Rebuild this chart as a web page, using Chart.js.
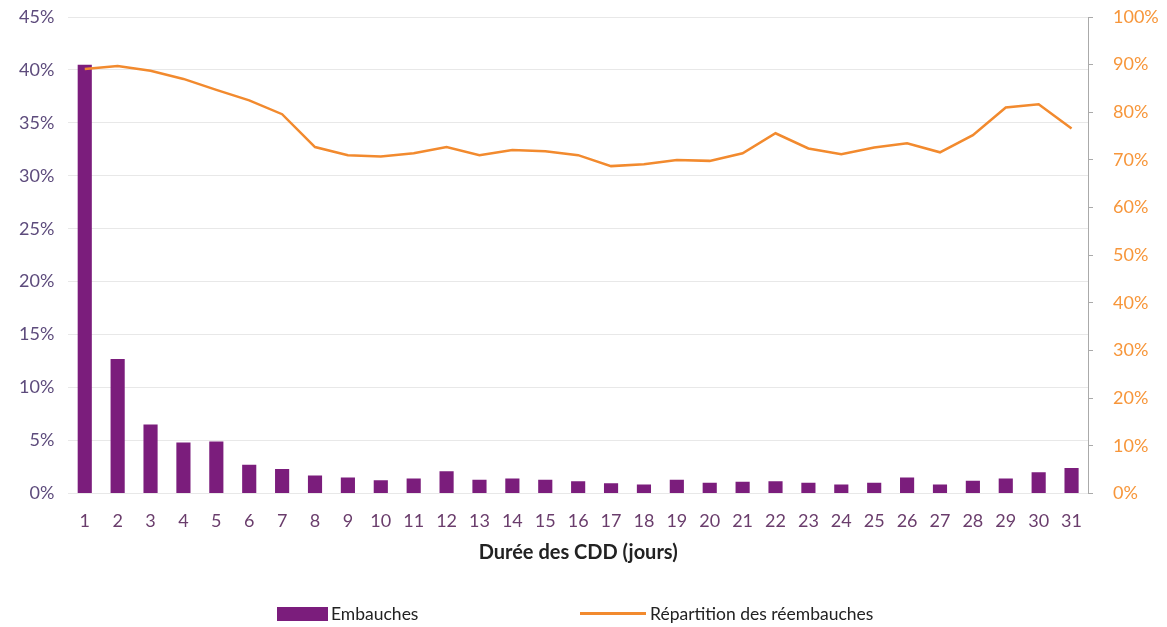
<!DOCTYPE html>
<html>
<head>
<meta charset="utf-8">
<script src="https://cdn.jsdelivr.net/npm/chart.js@4.4.1/dist/chart.umd.min.js"></script>
<style>
  body { margin: 0; background: #fff; font-family: Lato, "Open Sans", sans-serif; }
  #wrap { position: relative; width: 1167px; height: 627px; }
  .legend { position: absolute; top: 603px; font-size: 17.5px; color: #222; display: flex; align-items: center; }
  .legend span.box { display: inline-block; width: 51px; height: 14px; background: #7b1d7c; margin-right: 3px; }
  .legend span.line { display: inline-block; width: 66px; height: 3px; background: #f28a2e; margin-right: 4px; }
</style>
</head>
<body>
<div id="wrap">
  <canvas id="chart" width="1167" height="627"></canvas>
  <div class="legend" style="left:277px"><span class="box"></span>Embauches</div>
  <div class="legend" style="left:580px"><span class="line"></span>Répartition des réembauches</div>
</div>
<script>
const jours = ["1","2","3","4","5","6","7","8","9","10","11","12","13","14","15","16","17","18","19","20","21","22","23","24","25","26","27","28","29","30","31"];
// part des embauches (%), axe gauche
const embauches = [40.5, 12.7, 6.5, 4.8, 4.9, 2.7, 2.3, 1.7, 1.5, 1.25, 1.4, 2.1, 1.3, 1.4, 1.3, 1.15, 0.95, 0.85, 1.3, 1.0, 1.1, 1.15, 1.0, 0.85, 1.0, 1.5, 0.85, 1.2, 1.4, 2.0, 2.4];
// répartition des réembauches (%), axe droit
const reembauches = [89.1, 89.7, 88.7, 87.0, 84.7, 82.5, 79.6, 72.7, 71.0, 70.7, 71.4, 72.7, 71.0, 72.1, 71.8, 71.0, 68.7, 69.1, 70.0, 69.8, 71.4, 75.6, 72.4, 71.2, 72.6, 73.5, 71.6, 75.2, 81.0, 81.7, 76.6];

new Chart(document.getElementById("chart"), {
  data: {
    labels: jours,
    datasets: [
      {
        type: "line",
        label: "Répartition des réembauches",
        data: reembauches,
        yAxisID: "y2",
        borderColor: "#f28a2e",
        backgroundColor: "#f28a2e",
        borderWidth: 2.5,
        pointRadius: 0,
        tension: 0,
        order: 0
      },
      {
        type: "bar",
        label: "Embauches",
        data: embauches,
        yAxisID: "y",
        backgroundColor: "#7b1d7c",
        barPercentage: 0.43,
        categoryPercentage: 1,
        order: 1
      }
    ]
  },
  options: {
    responsive: false,
    animation: false,
    layout: { padding: { left: 5, right: 0, top: 17, bottom: 58 } },
    plugins: { legend: { display: false }, tooltip: { enabled: false } },
    scales: {
      x: {
        grid: { display: false },
        border: { display: false },
        ticks: { color: "#6a3d6c", font: { family: "Lato", size: 18 }, padding: 9, maxRotation: 0, autoSkip: false },
        title: { display: true, text: "Durée des CDD (jours)", color: "#222", font: { family: "Lato", size: 20, weight: "bold" }, padding: { top: 0 } }
      },
      y: {
        position: "left",
        min: 0, max: 45,
        ticks: { stepSize: 5, color: "#5d4b7c", font: { family: "Lato", size: 18 }, padding: 14, callback: v => v + "%" },
        grid: { color: "#e8e8e8", drawTicks: false },
        border: { display: false },
        afterFit: s => { s.paddingTop = 0; }
      },
      y2: {
        position: "right",
        min: 0, max: 100,
        ticks: { stepSize: 10, color: "#f7963a", font: { family: "Lato", size: 18 }, padding: 20, callback: v => v + "%" },
        grid: { drawOnChartArea: false, color: "#aaa", tickLength: 5 },
        border: { color: "#aaa" },
        afterFit: s => { s.paddingTop = 0; s.width = 79; }
      }
    }
  }
});
</script>
</body>
</html>
